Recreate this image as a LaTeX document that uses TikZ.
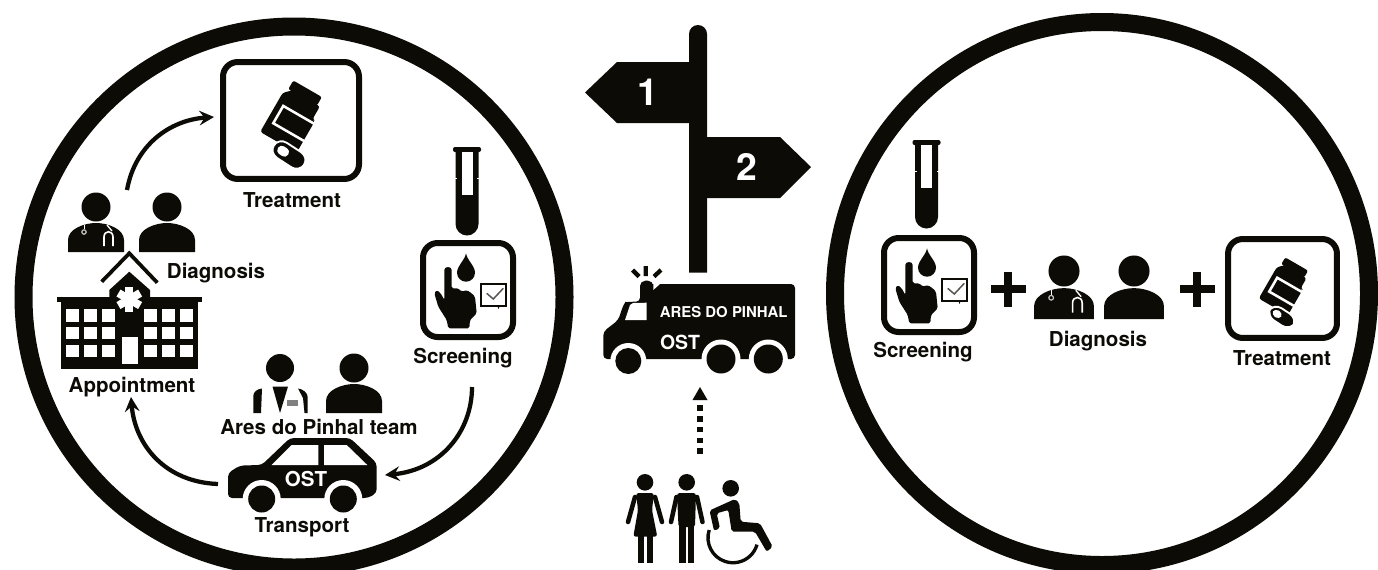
\documentclass[tikz,border=0pt]{standalone}
\usepackage{fontspec}
\setmainfont{TeX Gyre Heros}
\usetikzlibrary{arrows.meta,shapes.geometric}
\definecolor{ink}{HTML}{0C0B06}
\tikzset{
  lab/.style={font=\bfseries\fontsize{15.4}{18}\selectfont,text=ink,inner sep=0pt},
  whitelab/.style={font=\bfseries\fontsize{14.6}{17}\selectfont,text=white,inner sep=0pt},
  bigring/.style={draw=ink,line width=13.5pt,ellipse,inner sep=0pt,fill=none},
  iconbox/.style={draw=ink,line width=4.5pt,rounded corners=11pt,inner sep=0pt,fill=white},
  curvearrow/.style={draw=ink,line width=3.2pt,-{Stealth[length=11pt,width=11pt,inset=4pt]}},
  personicon/.pic={
    \fill[ink] (0,0) circle[radius=14.5];
    \fill[ink] (-28,45) -- (-28,33) .. controls (-28,22) and (-12,16) .. (0,16)
      .. controls (12,16) and (28,22) .. (28,33) -- (28,45) -- cycle;
  },
  doctoricon/.pic={
    \fill[ink] (0,0) circle[radius=14.5];
    \fill[ink] (-28,45) -- (-28,33) .. controls (-28,22) and (-12,16) .. (0,16)
      .. controls (12,16) and (28,22) .. (28,33) -- (28,45) -- cycle;
    \draw[white,line width=.7pt] (-12,18) -- (-12,22);
    \draw[white!75!ink,fill=ink,line width=.9pt] (-12,25) circle[radius=2.2];
    \draw[white,line width=1pt] (11,18) .. controls (14,21) .. (16,24);
    \draw[white,line width=1.2pt] (8,39) -- (8,30) .. controls (8,23) and (17,23) .. (17,30) -- (17,39);
  },
  suiticon/.pic={
    \fill[ink] (0,0) circle[radius=14];
    \fill[ink] (-26.7,45) -- (-26.7,28) .. controls (-26.7,24) and (-23,21) .. (-18,20.5) -- (-19,45) -- cycle;
    \fill[ink] (-7.5,18.5) -- (8,18.5) -- (0,45) -- cycle;
    \fill[ink] (18,20.5) .. controls (23,21) and (27.7,25) .. (27.7,29) -- (27.7,45) -- (24.5,45) -- (23,30) -- cycle;
    \fill[gray] (7,32) rectangle (18,38);
  },
  bottleicon/.pic={
    \begin{scope}[rotate=-30]
      \fill[ink,rounded corners=1.5pt] (-17,-30) rectangle (16,-20);
      \fill[ink,rounded corners=2pt] (-13,-21) -- (-20,-14) -- (-20,31) -- (22,31) -- (22,-6) -- (19,-6) -- (19,-21) -- cycle;
      \draw[white,line width=1.9pt] (23,-3) -- (-13,-3) -- (-13,17) -- (23,17);
    \end{scope}
    \begin{scope}[shift={(-4,40)},rotate=-33]
      \fill[ink,rounded corners=7pt,draw=white,line width=1.4pt] (-18,-9) rectangle (18,9);
      \fill[white,rounded corners=3pt] (-13,-4.5) rectangle (-1,4.5);
    \end{scope}
  },
  tubeicon/.pic={
    \fill[ink,rounded corners=1.5pt] (-14,-1) rectangle (14,4);
    \fill[ink] (-11.5,0) -- (11.5,0) -- (11.5,76) arc[start angle=0,end angle=180,radius=11.5] -- cycle;
    \fill[white] (-5.5,4) rectangle (5.5,47);
    \fill[white] (-12,29.5) rectangle (-10,30.5);
    \fill[white] (10,29.5) rectangle (12,30.5);
  },
  screenicon/.pic={
    \fill[ink] (-2,-36.7) .. controls (-1,-30) and (7,-24) .. (7,-17.3)
      arc[start angle=0,end angle=180,radius=9] .. controls (-11,-24) and (-3,-30) .. (-2,-36.7) -- cycle;
    \fill[ink,rounded corners=1.2pt] (-23.7,-18.3) .. controls (-23.7,-24) and (-16.3,-24) .. (-16.3,-18.3)
      -- (-16.3,-1.7) -- (-9.7,-1.7) -- (-6.3,1.7) -- (-1.3,0) -- (3.7,3.3) -- (7,6.7)
      -- (8.7,23.3) -- (2,30) -- (1.3,38.3) -- (-19.7,38.3) -- (-21.3,30) -- (-29.7,16.7)
      -- (-33.7,3.3) -- (-31.3,0) -- (-27.3,3.3) -- (-23.7,10) -- cycle;
    \fill[ink] (29,15) -- (32,15) -- (30.5,19) -- cycle;
    \draw[ink,line width=1.6pt] (13,-5.7) rectangle (38,16);
    \draw[ink!70,line width=1.1pt] (18.7,3.3) -- (25.3,9) -- (35.3,-1.7);
  },
  hospitalicon/.pic={
    \draw[ink,line width=2.8pt] (101.7,281.7) -- (129.3,253.3) -- (157.3,282.7);
    \fill[ink] (109.3,297) -- (109.3,290) -- (129.3,271.7) -- (150,290) -- (150,297) -- cycle;
    \fill[ink] (57.3,296.7) rectangle (201.7,302.3);
    \fill[ink] (60.7,302) rectangle (198.3,369.3);
    \foreach \wx in {66,83.7,101.7,144.3,162.3,180}
      \foreach \wy in {309,326.7,344.7}
        \fill[white] (\wx,\wy) rectangle ++(13,12.7);
    \fill[white] (121.7,337.3) rectangle (137.7,364.3);
    \foreach \ang in {90,30,150}
      \draw[white,line width=6pt] (129.3,299.3) ++(\ang:12.5) -- ++(\ang+180:25);
  },
  vanicon/.pic={
    \fill[ink,rounded corners=3pt] (603.3,359) -- (603.3,331.7) -- (618.3,320) -- (623.3,305)
      .. controls (625,302.5) and (628,301.7) .. (640,301.7) -- (640,284) -- (795,284) -- (795,359) -- cycle;
    \fill[ink,rounded corners=4pt] (640,300) -- (640,280.7) -- (653.3,280.7) -- (653.3,300) -- cycle;
    \fill[white] (653.3,280) -- (660,280) -- (660,284) -- (653.3,290) -- cycle;
    \fill[white] (630,305) -- (633,303) -- (646.7,302.7) -- (646.7,320) -- (625,320) -- cycle;
    \draw[ink,line width=3.2pt] (645.7,266) -- (645.7,276) (632.5,270) -- (639,276.5) (661,270) -- (654,276.5);
    \fill[white] (628.3,361) circle[radius=18];
    \fill[white] (721,359) circle[radius=19.5];
    \fill[white] (768.3,359) circle[radius=19.5];
    \fill[ink] (628.3,361) circle[radius=13];
    \fill[ink] (721,359) circle[radius=14.5];
    \fill[ink] (768.3,359) circle[radius=14.5];
  },
  caricon/.pic={
    \fill[ink,rounded corners=3pt] (228,498) -- (228,473) -- (240,465.5) -- (261.7,465) -- (290,438)
      -- (350,438) -- (376.7,463) -- (376.7,493) -- (368,498) -- cycle;
    \fill[white] (271.7,465) -- (291.7,445) -- (318.3,445) -- (318.3,465) -- cycle;
    \fill[white] (324,445) -- (346.7,445) -- (367.3,465) -- (324,465) -- cycle;
    \foreach \wc in {261.7,343.3}{
      \fill[white] (\wc,499) circle[radius=19];
    }
    \fill[white] (225,499) rectangle (380,516);
    \foreach \wc in {261.7,343.3}
      \fill[ink] (\wc,499) circle[radius=13.5];
  },
  peopleicon/.pic={
    % woman
    \fill[ink] (645,482.3) circle[radius=8.3];
    \fill[ink,rounded corners=2pt] (636,493) -- (654,493) -- (652,510) -- (657.3,536.7) -- (633.3,536.7) -- (638,510) -- cycle;
    \draw[ink,line width=3.4pt,line cap=round] (635,497) -- (628,522);
    \draw[ink,line width=3.4pt,line cap=round] (655,497) -- (662,522);
    \fill[ink] (638.3,535) rectangle (644,563);
    \fill[ink] (647.3,535) rectangle (652.7,563);
    % man
    \fill[ink] (686.7,482.3) circle[radius=8.3];
    \fill[ink,rounded corners=2pt] (677,493) -- (696,493) -- (695,527) -- (678.5,527) -- cycle;
    \draw[ink,line width=3.4pt,line cap=round] (676.5,497) -- (671,522);
    \draw[ink,line width=3.4pt,line cap=round] (697,497) -- (702.5,522);
    \fill[ink] (679.3,525) rectangle (685.5,563);
    \fill[ink] (688,525) rectangle (694,563);
    % wheelchair user
    \fill[ink] (730.7,488.3) circle[radius=8.3];
    \fill[ink,rounded corners=1.5pt] (709.5,510.5) -- (735,499) -- (739.3,503) -- (740.7,521.7) -- (760,523.3)
      -- (772.7,546.7) -- (766.7,551.7) -- (755,531.7) -- (731.7,531.7) -- (728.3,510) -- (716.7,513.3)
      -- (720,528.3) -- (714,530.7) -- cycle;
    \draw[ink,line width=2.5pt] (709.2,530) arc[start angle=198,end angle=16,radius=25];
  }
}
\begin{document}
\begin{tikzpicture}[x=0.75pt,y=-0.75pt]
\useasboundingbox[fill=white] (0,0) rectangle (1378,569);

% --- rings
\begin{scope}
\clip (0,0) rectangle (1378,569);
\node[bigring,minimum width=405.75pt,minimum height=405.75pt] (ringL) at (294,297) {};
\node[bigring,minimum width=400.5pt,minimum height=407.25pt] (ringR) at (1102,293.5) {};
\end{scope}

% --- left circle
\node[iconbox,minimum width=102pt,minimum height=87.7pt] (treatL) at (291,120.5) {};
\pic at (293,115) {bottleicon};
\node[lab] (treatLlab) at (292,200) {Treatment};

\pic at (467,148) {tubeicon};
\node[iconbox,minimum width=67.5pt,minimum height=70.5pt] (screenL) at (468,290) {};
\pic at (468,290) {screenicon};
\node[lab] (screenLlab) at (463,358) {Screening};

\pic at (96,207) {doctoricon};
\pic at (167,207) {personicon};
\node[lab] (diagLlab) at (216,273) {Diagnosis};

\pic at (0,0) {hospitalicon};
\node[lab] (applab) at (132,387) {Appointment};

\pic at (280,368) {suiticon};
\pic at (354,368) {personicon};
\node[lab] (areslab) at (319,427) {Ares do Pinhal team};

\pic at (0,0) {caricon};
\node[whitelab,font=\bfseries\fontsize{15.4}{18}\selectfont] (carost) at (306,479) {OST};
\node[lab] (translab) at (302,527) {Transport};

\coordinate (diagout) at (127,190);
\coordinate (treatin) at (214,117);
\coordinate (screenout) at (472,387);
\coordinate (carin) at (385,475);
\coordinate (carout) at (218,484);
\coordinate (appin) at (131,397);
\draw[curvearrow] (diagout) .. controls (135,145) and (170,120) .. (treatin);
\draw[curvearrow] (screenout) .. controls (472,432) and (440,470) .. (carin);
\draw[curvearrow] (carout) .. controls (165,482) and (135,445) .. (appin);

% --- centre
\fill[ink] (689,272.7) -- (689,34) arc[start angle=180,end angle=360,radius=9] -- (707,272.7) -- cycle;
\fill[ink] (690,62) -- (617,62) -- (585,92.5) -- (617,123) -- (690,123) -- cycle;
\fill[ink] (706,137) -- (780,137) -- (811,167) -- (780,198) -- (706,198) -- cycle;
\node[font=\bfseries\fontsize{28}{30}\selectfont,text=white,inner sep=0pt] (one) at (648,92) {1};
\node[font=\bfseries\fontsize{28}{30}\selectfont,text=white,inner sep=0pt] (two) at (747,167) {2};

\pic at (0,0) {vanicon};
\node[font=\bfseries\fontsize{11.2}{13}\selectfont,text=white,inner sep=0pt] (vanname) at (723.7,311.7) {ARES DO PINHAL};
\node[whitelab] (vanost) at (680,342.7) {OST};

\pic at (0,0) {peopleicon};
\coordinate (peopleout) at (700,454);
\coordinate (vanin) at (700,387);
\draw[ink,line width=3.8pt,dash pattern=on 4.2pt off 3.9pt] (peopleout) -- (700,398);
\fill[ink] (vanin) -- (707.5,400) -- (692.5,400) -- cycle;

% --- right circle
\pic at (926.5,141) {tubeicon};
\node[iconbox,minimum width=67.5pt,minimum height=70.5pt] (screenR) at (929,285) {};
\pic at (929,285) {screenicon};
\node[lab] (screenRlab) at (923,352) {Screening};

\fill[ink] (990.5,285) rectangle (1025.5,293);
\fill[ink] (1004,271.5) rectangle (1012,306.5);

\pic[scale=1.07] at (1064,271) {doctoricon};
\pic[scale=1.07] at (1134,271) {personicon};
\node[lab] (diagRlab) at (1098,341) {Diagnosis};

\fill[ink] (1179.5,285) rectangle (1214.5,293);
\fill[ink] (1193,271.5) rectangle (1201,306.5);

\node[iconbox,minimum width=81.7pt,minimum height=74.2pt] (treatR) at (1282.5,288.5) {};
\pic[scale=.8] at (1285,285) {bottleicon};
\node[lab] (treatRlab) at (1282,358) {Treatment};
\end{tikzpicture}
\end{document}
